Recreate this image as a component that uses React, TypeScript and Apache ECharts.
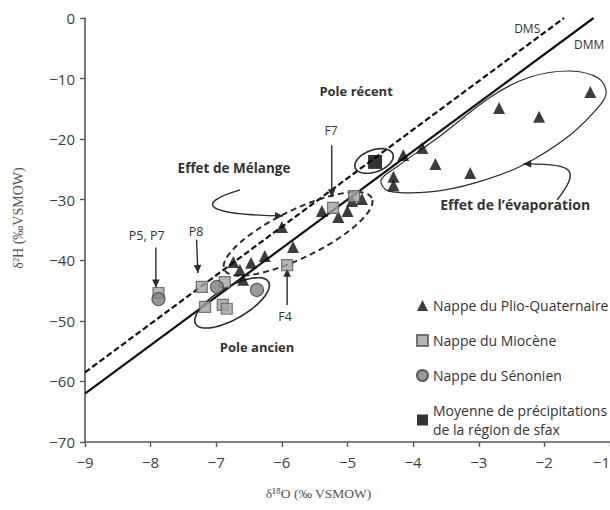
import React, { useEffect, useRef } from "react";
import * as echarts from "echarts";

// ---- data (δ18O, δ2H) ----
const plioQuaternaire: number[][] = [
  [-1.3, -12.2], [-2.69, -14.85], [-2.08, -16.3], [-3.86, -21.45], [-4.15, -22.6],
  [-3.66, -24.1], [-3.13, -25.6], [-4.3, -26.2], [-4.3, -27.6], [-4.78, -29.9],
  [-4.93, -30.2], [-5.0, -31.85], [-5.14, -32.85], [-5.39, -31.85], [-6.0, -34.5],
  [-5.83, -37.8], [-6.26, -39.3], [-6.47, -40.4], [-6.74, -40.3], [-6.64, -41.6],
  [-6.59, -43.2],
];
const miocene: number[][] = [
  [-5.22, -31.35], [-4.9, -29.4], [-5.92, -40.8], [-7.22, -44.4], [-7.17, -47.7],
  [-6.9, -47.35], [-6.84, -48.0], [-6.87, -43.6], [-7.88, -45.4],
];
const senonien: number[][] = [[-7.88, -46.4], [-6.99, -44.4], [-6.38, -44.9]];
const precipitations: number[][] = [[-4.58, -23.76]];

const dmmLine: number[][] = [[-9, -62], [-1.25, 0]];
const dmsLine: number[][] = [[-9, -58.5], [-1.7, 0]];

const seriesNames = [
  "Nappe du Plio-Quaternaire",
  "Nappe du Miocène",
  "Nappe du Sénonien",
  "Moyenne de précipitations\nde la région de sfax",
];

// ---- annotations (data units) ----
// ellipse: [centre, end of first semi-axis, end of second semi-axis]
const poleRecentEllipse: number[][] = [[-4.595, -23.6], [-4.308, -22.48], [-4.652, -21.9]];
const poleAncienEllipse: number[][] = [[-6.759, -47.03], [-6.204, -43.56], [-6.881, -44.74]];
const melangeEllipse: number[][] = [[-5.753, -35.64], [-4.63, -29.72], [-5.913, -32.08]];
const evaporationLoop: number[][] = [
  [-4.488, -26.73], [-4.229, -24.42], [-3.588, -19.47], [-2.796, -12.87], [-2.216, -9.74],
  [-1.607, -8.75], [-1.18, -9.9], [-1.058, -12.21], [-1.149, -14.36], [-1.607, -19.31],
  [-2.323, -24.26], [-3.055, -27.23], [-3.741, -28.71], [-4.381, -28.55],
];
const straightArrows: number[][][] = [
  [[-7.92, -37.9], [-7.92, -44.5]], // P5, P7
  [[-7.3, -36.6], [-7.28, -42.1]], // P8
  [[-5.24, -21.0], [-5.24, -29.6]], // F7
  [[-5.92, -47.4], [-5.92, -41.4]], // F4
];
const curvedArrows: number[][][] = [
  [[-6.637, -28.38], [-7.399, -30.86], [-7.095, -32.51], [-5.982, -32.67]], // mélange
  [[-1.805, -30.03], [-1.454, -25.08], [-1.53, -23.93], [-2.323, -24.09]], // évaporation
];
const labelTexts = ["DMS", "DMM", "Pole récent", "F7", "Effet de Mélange", "Effet de l’évaporation", "P5, P7", "P8", "F4", "Pole ancien"];
const labelPositions: number[][] = [
  [-2.262, -1.8], [-1.317, -4.3], [-4.869, -12.05], [-5.25, -18.65], [-6.729, -24.75],
  [-2.445, -30.86], [-8.06, -35.97], [-7.308, -35.3], [-5.951, -49.3], [-6.378, -54.3],
];
const labelBold = [false, false, true, false, true, true, false, false, false, true];
const labelSizes = [12, 12, 13, 12, 13.5, 14, 12.5, 12.5, 12.5, 13];

const FONT = "'Open Sans', sans-serif";
const INK = "#2b2b2b";

function renderAnnotations(_params: any, api: any) {
  const P = (p: number[]) => api.coord(p);
  const children: any[] = [];

  const ellipse = (e: number[][], dashed: boolean, width: number) => {
    const c = P(e[0]), a = P(e[1]), b = P(e[2]);
    const u = [a[0] - c[0], a[1] - c[1]];
    const v = [b[0] - c[0], b[1] - c[1]];
    const pts: number[][] = [];
    for (let i = 0; i < 90; i++) {
      const t = (i / 90) * Math.PI * 2;
      pts.push([c[0] + u[0] * Math.cos(t) + v[0] * Math.sin(t), c[1] + u[1] * Math.cos(t) + v[1] * Math.sin(t)]);
    }
    children.push({
      type: "polygon",
      shape: { points: pts },
      style: { fill: "none", stroke: INK, lineWidth: width, lineDash: dashed ? [6, 4] : null },
    });
  };
  ellipse(poleRecentEllipse, false, 1.6);
  ellipse(poleAncienEllipse, false, 1.6);
  ellipse(melangeEllipse, true, 2);

  children.push({
    type: "polygon",
    shape: { points: evaporationLoop.map(P), smooth: 0.35 },
    style: { fill: "none", stroke: INK, lineWidth: 1.2 },
  });

  const head = (tip: number[], from: number[]) => {
    const dx = tip[0] - from[0], dy = tip[1] - from[1];
    const L = Math.hypot(dx, dy) || 1;
    const ux = dx / L, uy = dy / L;
    const len = 8, half = 3.8;
    const bx = tip[0] - ux * len, by = tip[1] - uy * len;
    children.push({
      type: "polygon",
      shape: { points: [[tip[0], tip[1]], [bx - uy * half, by + ux * half], [bx + uy * half, by - ux * half]] },
      style: { fill: INK, stroke: "none" },
    });
  };

  straightArrows.forEach((ar) => {
    const s = P(ar[0]), e = P(ar[1]);
    children.push({
      type: "line",
      shape: { x1: s[0], y1: s[1], x2: e[0], y2: e[1] },
      style: { stroke: INK, lineWidth: 1.4 },
    });
    head(e, s);
  });

  curvedArrows.forEach((ar) => {
    const [p0, c1, c2, p3] = ar.map(P);
    children.push({
      type: "bezierCurve",
      shape: { x1: p0[0], y1: p0[1], cpx1: c1[0], cpy1: c1[1], cpx2: c2[0], cpy2: c2[1], x2: p3[0], y2: p3[1] },
      style: { fill: "none", stroke: INK, lineWidth: 1.4 },
    });
    head(p3, c2);
  });

  labelTexts.forEach((t, i) => {
    const p = P(labelPositions[i]);
    children.push({
      type: "text",
      x: p[0],
      y: p[1],
      style: {
        text: t,
        fill: "#333",
        font: `${labelBold[i] ? "bold " : ""}${labelSizes[i]}px ${FONT}`,
        align: "center",
        verticalAlign: "middle",
      },
    });
  });

  return { type: "group", children };
}

export default function App() {
  const ref = useRef<HTMLDivElement>(null);
  useEffect(() => {
    if (!ref.current) return;
    const chart = echarts.init(ref.current, null, { renderer: "svg" });
    const minus = (v: number) => String(v).replace("-", "−");
    chart.setOption({
      animation: false,
      backgroundColor: "#ffffff",
      textStyle: { fontFamily: FONT },
      grid: { left: 85, right: 0, top: 18, bottom: 68, containLabel: false, outerBoundsMode: "none" },
      xAxis: {
        type: "value",
        min: -9,
        max: -1,
        interval: 1,
        name: "δ¹⁸O (‰ VSMOW)",
        nameLocation: "middle",
        nameGap: 44,
        nameTextStyle: { fontFamily: "'Liberation Serif', serif", fontSize: 13.5, color: "#555", padding: [0, 58, 0, 0] },
        axisLine: { onZero: false, lineStyle: { color: "#595959", width: 1.6 } },
        axisTick: { show: true, length: 5, lineStyle: { color: "#595959", width: 1.4 } },
        axisLabel: { fontSize: 15, color: "#404040", margin: 12, formatter: minus, showMaxLabel: true, alignMaxLabel: "right" },
        splitLine: { show: false },
      },
      yAxis: {
        type: "value",
        min: -70,
        max: 0,
        interval: 10,
        name: "δ²H (‰VSMOW)",
        nameLocation: "middle",
        nameGap: 60,
        nameTextStyle: { fontFamily: "'Liberation Serif', serif", fontSize: 14, color: "#555", padding: [0, 0, 0, 24] },
        axisLine: { onZero: false, lineStyle: { color: "#595959", width: 1.6 } },
        axisTick: { show: true, length: 5, lineStyle: { color: "#595959", width: 1.4 } },
        axisLabel: { fontSize: 15, color: "#404040", margin: 10, formatter: minus },
        splitLine: { show: false },
      },
      legend: {
        orient: "vertical",
        left: 411,
        top: 291,
        itemGap: 16,
        itemWidth: 11,
        itemHeight: 11,
        textStyle: { fontSize: 14, color: "#333", fontFamily: FONT, lineHeight: 19 },
        data: [
          { name: seriesNames[0], icon: "triangle" },
          { name: seriesNames[1], icon: "rect" },
          { name: seriesNames[2], icon: "circle" },
          { name: seriesNames[3], icon: "rect" },
        ],
      },
      series: [
        {
          type: "line",
          name: "DMS",
          data: dmsLine,
          showSymbol: false,
          silent: true,
          lineStyle: { color: "#111", width: 2.2, type: [6, 3] },
          z: 2,
        },
        {
          type: "line",
          name: "DMM",
          data: dmmLine,
          showSymbol: false,
          silent: true,
          lineStyle: { color: "#111", width: 2.2 },
          z: 2,
        },
        {
          type: "custom",
          name: "annotations",
          data: [[-5, -35]],
          renderItem: renderAnnotations,
          silent: true,
          z: 3,
        },
        {
          type: "scatter",
          name: seriesNames[0],
          data: plioQuaternaire,
          symbol: "triangle",
          symbolSize: 12,
          itemStyle: { color: "#0d0d0d" },
          z: 5,
        },
        {
          type: "scatter",
          name: seriesNames[1],
          data: miocene,
          symbol: "rect",
          symbolSize: 11,
          itemStyle: { color: "#a3a3a3", borderColor: "#595959", borderWidth: 1.2 },
          z: 5,
        },
        {
          type: "scatter",
          name: seriesNames[2],
          data: senonien,
          symbol: "circle",
          symbolSize: 13,
          itemStyle: { color: "#7f7f7f", borderColor: "#404040", borderWidth: 1.2 },
          z: 5,
        },
        {
          type: "scatter",
          name: seriesNames[3],
          data: precipitations,
          symbol: "rect",
          symbolSize: 14,
          itemStyle: { color: "#000000" },
          z: 6,
        },
      ],
    });
    return () => chart.dispose();
  }, []);
  return <div ref={ref} style={{ position: "fixed", left: 0, top: 0, width: 610, height: 510 }} />;
}
